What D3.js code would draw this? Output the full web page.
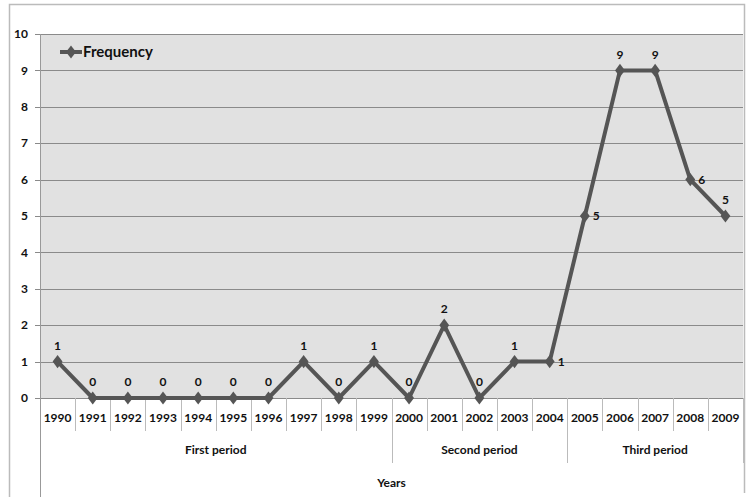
<!DOCTYPE html>
<html>
<head>
<meta charset="utf-8">
<script src="https://cdn.jsdelivr.net/npm/d3@7"></script>
<style>
  body { margin: 0; background: #fff; }
  text { font-family: Lato, "Open Sans", sans-serif; font-weight: bold; fill: #111; }
</style>
</head>
<body>
<div id="chart"></div>
<script>
// Frequency by year
var years = ["1990","1991","1992","1993","1994","1995","1996","1997","1998","1999",
  "2000","2001","2002","2003","2004","2005","2006","2007","2008","2009"];
var frequency = [1,0,0,0,0,0,0,1,0,1,0,2,0,1,1,5,9,9,6,5];
var periods = ["First period","Second period","Third period"];
var periodStart = [0, 10, 15];
var periodEnd = [10, 15, 20];
var yTicks = [0,1,2,3,4,5,6,7,8,9,10];

// labels drawn right of the point instead of above
var rightLabels = ["2004","2005","2008"];

var svgWidth = 753;
var svgHeight = 497;

var margin = { top: 34, right: 10, bottom: 99, left: 40 };
var width = 743 - margin.left;
var height = 398 - margin.top;

var svg = d3.select("#chart").append("svg")
  .attr("width", svgWidth)
  .attr("height", svgHeight);

// outer frame
svg.append("path")
  .attr("d", "M9.5,497 V4.5 H744.5 V493")
  .attr("fill", "none")
  .attr("stroke", "#bbb")
  .attr("stroke-width", 1.5);

var chartGroup = svg.append("g")
  .attr("transform", `translate(${margin.left}, ${margin.top})`);

var xScale = d3.scaleBand()
  .domain(years)
  .range([0, width]);

var yScale = d3.scaleLinear()
  .domain([0, 10])
  .range([height, 0]);

// plot background
chartGroup.append("rect")
  .attr("width", width)
  .attr("height", height)
  .attr("fill", "#e1e1e1");

// gridlines + y ticks
chartGroup.selectAll(".grid")
  .data(yTicks)
  .enter()
  .append("line")
  .attr("x1", -5)
  .attr("x2", width)
  .attr("y1", d => Math.round(yScale(d)) + 0.5)
  .attr("y2", d => Math.round(yScale(d)) + 0.5)
  .attr("stroke", "#8a8a8a")
  .attr("stroke-width", 1);

chartGroup.selectAll(".ytick")
  .data(yTicks)
  .enter()
  .append("text")
  .attr("x", -12)
  .attr("y", d => yScale(d))
  .attr("dy", "0.35em")
  .attr("text-anchor", "end")
  .attr("font-size", "12px")
  .text(d => d);

// y axis line running to bottom
chartGroup.append("line")
  .attr("x1", 0.5).attr("x2", 0.5)
  .attr("y1", 0).attr("y2", svgHeight - margin.top)
  .attr("stroke", "#999");

// year separators
chartGroup.selectAll(".ysep")
  .data(d3.range(1, years.length + 1))
  .enter()
  .append("line")
  .attr("x1", i => Math.round(i * xScale.step()) + 0.5)
  .attr("x2", i => Math.round(i * xScale.step()) + 0.5)
  .attr("y1", height)
  .attr("y2", height + 33)
  .attr("stroke", "#bbb");

// year labels
chartGroup.selectAll(".xlab")
  .data(years)
  .enter()
  .append("text")
  .attr("x", d => xScale(d) + xScale.bandwidth() / 2)
  .attr("y", height + 20)
  .attr("dy", "0.35em")
  .attr("text-anchor", "middle")
  .attr("font-size", "12px")
  .text(d => d);

// period separators
chartGroup.selectAll(".psep")
  .data(periodEnd)
  .enter()
  .append("line")
  .attr("x1", i => Math.round(i * xScale.step()) + 0.5)
  .attr("x2", i => Math.round(i * xScale.step()) + 0.5)
  .attr("y1", height + 33)
  .attr("y2", height + 65)
  .attr("stroke", "#bbb");

chartGroup.selectAll(".plab")
  .data(periods)
  .enter()
  .append("text")
  .attr("x", (d, i) => (periodStart[i] + periodEnd[i]) / 2 * xScale.step())
  .attr("y", height + 52)
  .attr("dy", "0.35em")
  .attr("text-anchor", "middle")
  .attr("font-size", "12px")
  .text(d => d);

chartGroup.append("text")
  .attr("x", 10 * xScale.step())
  .attr("y", height + 85)
  .attr("dy", "0.35em")
  .attr("text-anchor", "middle")
  .attr("font-size", "12px")
  .text("Years");

// line
var line = d3.line()
  .x((d, i) => xScale(years[i]) + xScale.bandwidth() / 2)
  .y(d => yScale(d));

chartGroup.append("path")
  .datum(frequency)
  .attr("d", line)
  .attr("fill", "none")
  .attr("stroke", "#555")
  .attr("stroke-width", 4)
  .attr("stroke-linejoin", "round");

var diamond = d3.symbol().type(d3.symbolDiamond).size(50);

chartGroup.selectAll(".marker")
  .data(frequency)
  .enter()
  .append("path")
  .attr("d", diamond)
  .attr("transform", (d, i) => `translate(${xScale(years[i]) + xScale.bandwidth() / 2}, ${yScale(d)}) scale(1.3, 1)`)
  .attr("fill", "#555");

// data labels
chartGroup.selectAll(".dlab")
  .data(frequency)
  .enter()
  .append("text")
  .attr("x", (d, i) => xScale(years[i]) + xScale.bandwidth() / 2 + (rightLabels.includes(years[i]) ? 8 : 0))
  .attr("y", (d, i) => yScale(d) - (rightLabels.includes(years[i]) ? 0 : 16))
  .attr("dy", "0.35em")
  .attr("text-anchor", (d, i) => rightLabels.includes(years[i]) ? "start" : "middle")
  .attr("font-size", "12px")
  .text(d => d);

// legend
var legend = chartGroup.append("g")
  .attr("transform", "translate(20, 18)");

legend.append("line")
  .attr("x1", 0).attr("x2", 22)
  .attr("stroke", "#555")
  .attr("stroke-width", 4);

legend.append("path")
  .attr("d", diamond)
  .attr("transform", "translate(11, 0) scale(1.3, 1)")
  .attr("fill", "#555");

legend.append("text")
  .attr("x", 23)
  .attr("dy", "0.35em")
  .attr("font-size", "15px")
  .text("Frequency");
</script>
</body>
</html>
